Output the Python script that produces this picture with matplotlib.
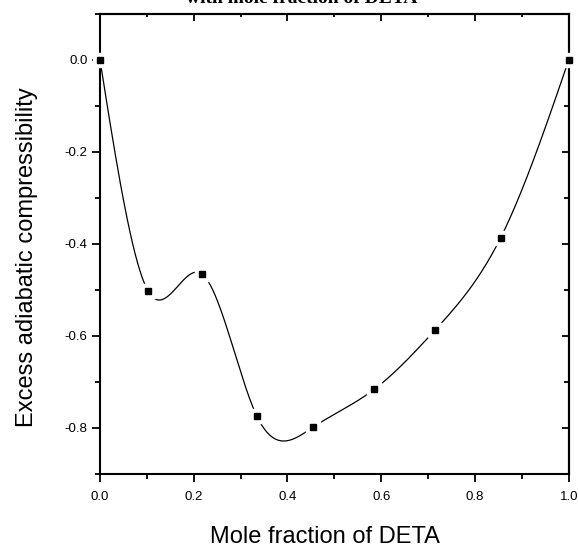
import numpy as np
import matplotlib.pyplot as plt
from matplotlib.ticker import MultipleLocator, FormatStrFormatter

plt.rcParams["font.family"] = "Liberation Sans"

# mole fraction of DETA and excess adiabatic compressibility
mole_frac = [0.0, 0.103, 0.217, 0.335, 0.455, 0.585, 0.715, 0.855, 1.0]
excess_comp = [0.0, -0.503, -0.465, -0.775, -0.798, -0.716, -0.587, -0.386, 0.0]

x_ticks = [0.0, 0.2, 0.4, 0.6, 0.8, 1.0]
y_ticks = [0.0, -0.2, -0.4, -0.6, -0.8]


def natural_spline(x, y, n=400):
    # smooth connecting line (like Origin's spline connect)
    x = np.asarray(x, float)
    y = np.asarray(y, float)
    k = len(x)
    h = np.diff(x)
    A = np.zeros((k, k))
    b = np.zeros(k)
    A[0, 0] = A[-1, -1] = 1
    for i in range(1, k - 1):
        A[i, i - 1] = h[i - 1]
        A[i, i] = 2 * (h[i - 1] + h[i])
        A[i, i + 1] = h[i]
        b[i] = 6 * ((y[i + 1] - y[i]) / h[i] - (y[i] - y[i - 1]) / h[i - 1])
    M = np.linalg.solve(A, b)
    xs = np.linspace(x[0], x[-1], n)
    idx = np.clip(np.searchsorted(x, xs) - 1, 0, k - 2)
    x0, x1 = x[idx], x[idx + 1]
    hh = x1 - x0
    t0, t1 = x1 - xs, xs - x0
    ys = (M[idx] * t0**3 + M[idx + 1] * t1**3) / (6 * hh) \
        + (y[idx] / hh - M[idx] * hh / 6) * t0 \
        + (y[idx + 1] / hh - M[idx + 1] * hh / 6) * t1
    return xs, ys


fig = plt.figure(figsize=(5.78, 5.47), dpi=100)
ax = fig.add_axes([0.173, 0.1335, 0.811, 0.841])

xs, ys = natural_spline(mole_frac, excess_comp)
ax.plot(xs, ys, color='black', lw=0.9, zorder=2)
# white halo gives the gap around symbols
ax.plot(mole_frac, excess_comp, 's', color='white', markersize=10, zorder=3, clip_on=False)
ax.plot(mole_frac, excess_comp, 's', color='black', markersize=5, zorder=4, clip_on=False)

ax.set_xlim(0, 1.0)
ax.set_ylim(-0.9, 0.1)
ax.set_xticks(x_ticks)
ax.set_yticks(y_ticks)
ax.xaxis.set_minor_locator(MultipleLocator(0.1))
ax.yaxis.set_minor_locator(MultipleLocator(0.1))
ax.xaxis.set_major_formatter(FormatStrFormatter('%.1f'))
ax.yaxis.set_major_formatter(FormatStrFormatter('%.1f'))

for s in ax.spines.values():
    s.set_linewidth(1.5)

ax.tick_params(which='both', direction='out', width=1.3, labelsize=9.5,
               top=False, right=False)
ax.tick_params(which='major', length=5.5)
ax.tick_params(which='minor', length=3.5)
ax.tick_params(axis='x', which='major', pad=6.5)
ax.tick_params(axis='y', which='major', pad=3.5)

# inward ticks on top and right
ax2 = ax.secondary_xaxis('top')
ax2.set_xticks(x_ticks)
ax2.xaxis.set_minor_locator(MultipleLocator(0.1))
ax2.tick_params(which='both', direction='in', width=1.3, labeltop=False)
ax2.tick_params(which='major', length=5)
ax2.tick_params(which='minor', length=2.5)
ax3 = ax.secondary_yaxis('right')
ax3.set_yticks(y_ticks)
ax3.yaxis.set_minor_locator(MultipleLocator(0.1))
ax3.tick_params(which='both', direction='in', width=1.3, labelright=False)
ax3.tick_params(which='major', length=5)
ax3.tick_params(which='minor', length=3.5)
ax2.spines['top'].set_linewidth(1.5)
ax3.spines['right'].set_linewidth(1.5)

ax.set_xlabel("Mole fraction of DETA", fontsize=17)
ax.set_ylabel("Excess adiabatic compressibility", fontsize=17)
ax.xaxis.set_label_coords(0.479, -0.113)
ax.yaxis.set_label_coords(-0.132, 0.472)

fig.text(302 / 578, 1 - 3 / 547, "with mole fraction of DETA", ha='center',
         va='baseline', family='Liberation Serif', fontweight='bold', fontsize=14)

fig.savefig("out.png", dpi=100)
